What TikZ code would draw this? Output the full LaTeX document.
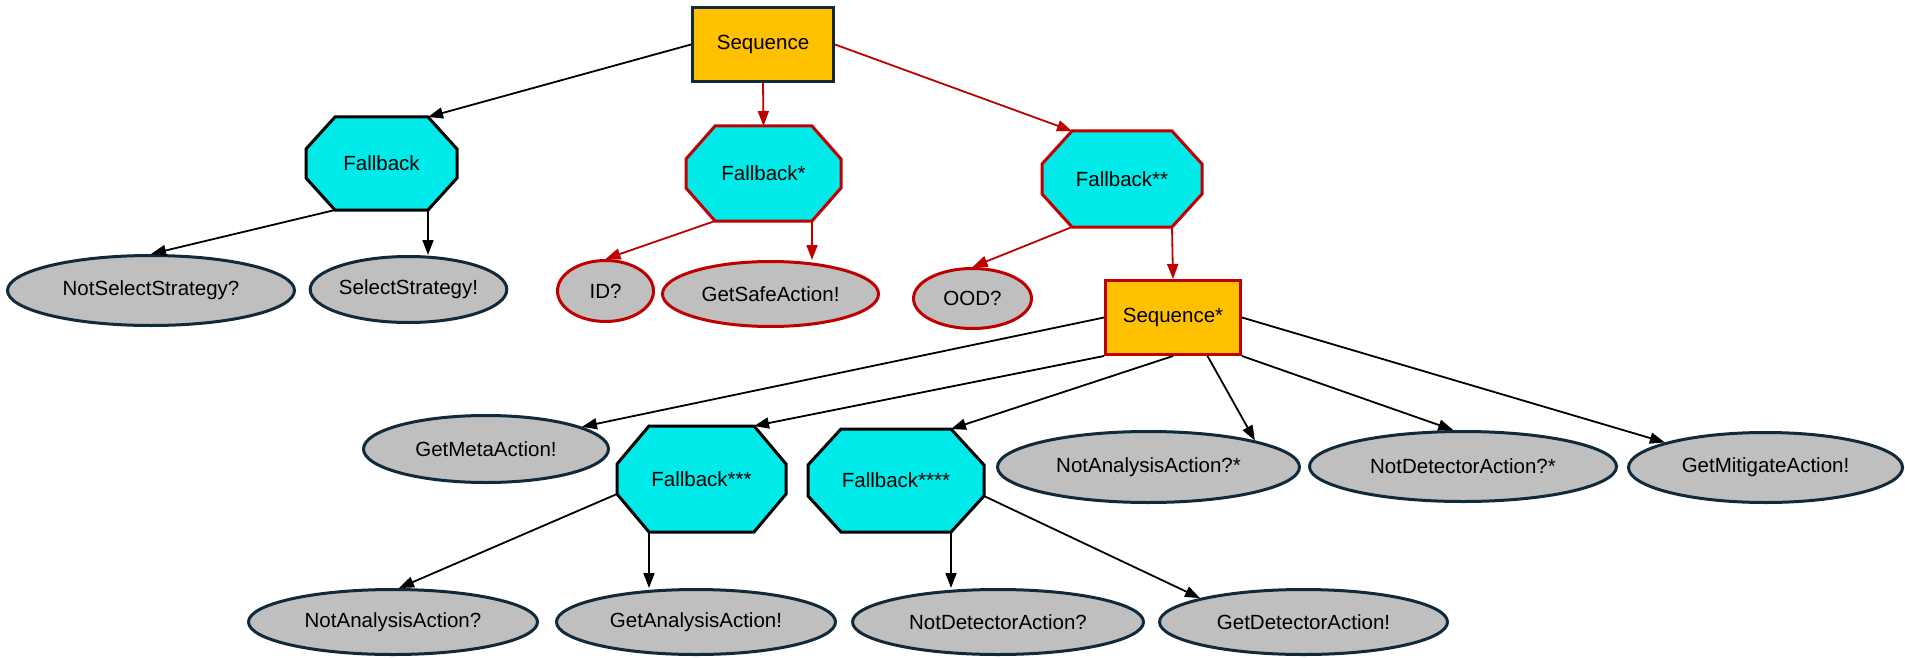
\documentclass[tikz,border=0pt]{standalone}
\usepackage{fontspec}
\setmainfont{Liberation Sans}
\usetikzlibrary{shapes.geometric,arrows.meta,calc}
\pgfdeclarelayer{bg}
\pgfsetlayers{bg,main}
\definecolor{seqfill}{HTML}{FFC000}
\definecolor{fbfill}{HTML}{00EAEA}
\definecolor{leaffill}{HTML}{BFBFBF}
\definecolor{navy}{HTML}{112A3B}
\definecolor{redc}{HTML}{C00000}
\tikzset{
  base/.style={font=\fontsize{20.5}{24}\selectfont, text=black, inner sep=0pt},
  seqbox/.style={base, rectangle, draw=navy, line width=3pt, fill=seqfill},
  seqboxred/.style={seqbox, draw=redc},
  octtext/.style={base, rectangle, draw=none, outer sep=0pt},
  octblack/.style={draw=black, line width=3pt, fill=fbfill, line join=miter},
  octred/.style={octblack, draw=redc},
  leaf/.style={base, ellipse, draw=navy, line width=3pt, fill=leaffill},
  leafred/.style={leaf, draw=redc},
  edge/.style={line width=1.8pt, draw=black, -{Triangle[length=15pt,width=11pt]}},
  redge/.style={edge, draw=redc}
}
\newcommand\octdraw[4]{%
  \path (#1.north west) ++(#2,0) coordinate (#1-nw)
        (#1.north east) ++(-#2,0) coordinate (#1-ne)
        (#1.north east) ++(0,#3) coordinate (#1-en)
        (#1.south east) ++(0,-#3) coordinate (#1-es)
        (#1.south east) ++(-#2,0) coordinate (#1-se)
        (#1.south west) ++(#2,0) coordinate (#1-sw)
        (#1.south west) ++(0,-#3) coordinate (#1-ws)
        (#1.north west) ++(0,#3) coordinate (#1-wn);
  \begin{pgfonlayer}{bg}
  \draw[#4] (#1-nw) -- (#1-ne) -- (#1-en) -- (#1-es) -- (#1-se) -- (#1-sw) -- (#1-ws) -- (#1-wn) -- cycle;
  \end{pgfonlayer}
}
\begin{document}
\begin{tikzpicture}[x=1pt,y=-1pt]
\useasboundingbox (0,0) rectangle (1905,658);

% sequences
\node[seqbox, minimum width=141pt, minimum height=74pt] (seq) at (763,44.5) {Sequence};
\node[seqboxred, minimum width=135pt, minimum height=74pt] (seq2) at (1173,317.5) {Sequence*};

% fallbacks
\node[octtext, minimum width=151pt, minimum height=93pt] (fb1) at (381.5,163.5) {Fallback};
\octdraw{fb1}{29}{32}{octblack}
\node[octtext, minimum width=155pt, minimum height=95pt] (fbs) at (763.5,173.5) {Fallback*};
\octdraw{fbs}{29}{33}{octred}
\node[octtext, minimum width=160pt, minimum height=96pt] (fbss) at (1122,179) {Fallback**};
\octdraw{fbss}{30}{33}{octred}
\node[octtext, minimum width=169pt, minimum height=106pt] (fb3) at (701.5,479) {Fallback***};
\octdraw{fb3}{32}{38}{octblack}
\node[octtext, minimum width=176pt, minimum height=103pt] (fb4) at (896,480.5) {Fallback****};
\octdraw{fb4}{33}{36}{octblack}

% leaves
\node[leaf, minimum width=287pt, minimum height=70pt] (nss) at (151,290.5) {NotSelectStrategy?};
\node[leaf, minimum width=196pt, minimum height=66pt] (ss) at (408.5,289.5) {SelectStrategy!};
\node[leafred, minimum width=96pt, minimum height=61pt] (id) at (605.5,291) {ID?};
\node[leafred, minimum width=216pt, minimum height=65pt] (gsa) at (770.5,294) {GetSafeAction!};
\node[leafred, minimum width=118pt, minimum height=60pt] (ood) at (972.5,298.5) {OOD?};
\node[leaf, minimum width=245pt, minimum height=67pt] (gma) at (486,449) {GetMetaAction!};
\node[leaf, minimum width=302pt, minimum height=71pt] (naa2) at (1148.5,467) {NotAnalysisAction?*};
\node[leaf, minimum width=307pt, minimum height=70pt] (nda2) at (1463,466.5) {NotDetectorAction?*};
\node[leaf, minimum width=274pt, minimum height=70pt] (gmit) at (1765.5,467.5) {GetMitigateAction!};
\node[leaf, minimum width=289pt, minimum height=65pt] (naa) at (393,622) {NotAnalysisAction?};
\node[leaf, minimum width=279pt, minimum height=65pt] (gaa) at (696,622) {GetAnalysisAction!};
\node[leaf, minimum width=291pt, minimum height=65pt] (nd) at (998,622) {NotDetectorAction?};
\node[leaf, minimum width=288pt, minimum height=65pt] (gd) at (1303.5,622) {GetDetectorAction!};

% edges
\draw[edge] (seq.west) -- (fb1-ne);
\draw[redge] (seq.south) -- (fbs.north);
\draw[redge] (seq.east) -- (fbss-nw);
\draw[edge] (fb1-sw) -- (nss.north);
\draw[edge] (fb1-se) -- (fb1-se |- ss.north);
\draw[redge] (fbs-sw) -- (id.north);
\draw[redge] (fbs-se) -- (fbs-se |- gsa.north);
\draw[redge] (fbss-sw) -- (ood.north);
\draw[redge] (fbss-se) -- (seq2.north);
\draw[edge] (seq2.west) -- (gma.13);
\draw[edge] (seq2.south west) -- (fb3-ne);
\draw[edge] (seq2.south) -- (fb4-ne);
\draw[edge] ($(seq2.south)!0.5!(seq2.south east)$) -- (naa2.14);
\draw[edge] (seq2.south east) -- (nda2.105);
\draw[edge] (seq2.east) -- (gmit.166);
\draw[edge] (fb3-ws) -- (naa.80);
\draw[edge] (fb3-sw) -- (fb3-sw |- gaa.north);
\draw[edge] (fb4-se) -- (fb4-se |- nd.north);
\draw[edge] (fb4-es) -- (gd.167);
\end{tikzpicture}
\end{document}
